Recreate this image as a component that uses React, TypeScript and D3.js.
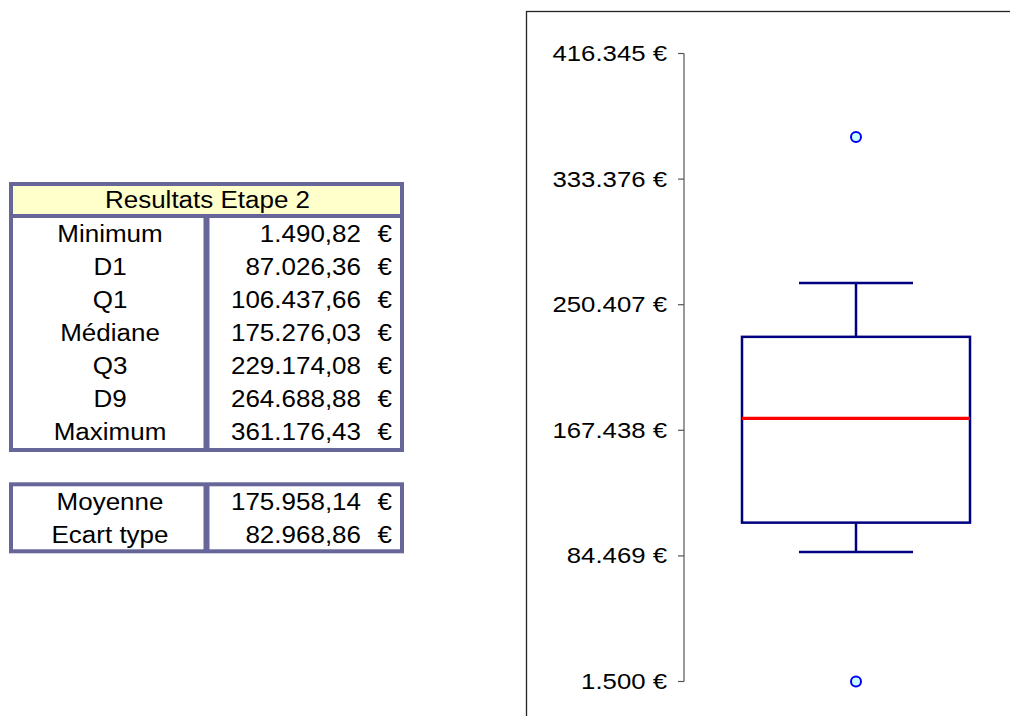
import React from "react";
import * as d3 from "d3";

// ---- data ----
const tableTitle = "Resultats Etape 2";
const statLabels = ["Minimum", "D1", "Q1", "Médiane", "Q3", "D9", "Maximum"];
const statValues = [1490.82, 87026.36, 106437.66, 175276.03, 229174.08, 264688.88, 361176.43];
const extraLabels = ["Moyenne", "Ecart type"];
const extraValues = [175958.14, 82968.86];
const tickValues = [1500, 84469, 167438, 250407, 333376, 416345];
const category = "Etape 2";

const W = 1010;
const H = 716;

const loc = d3.formatLocale({ decimal: ",", thousands: ".", grouping: [3], currency: ["", " €"] });
const fmtTick = (v: number) => loc.format(",.0f")(v) + " €";
const fmtVal = loc.format(",.2f");

const FONT = "'Liberation Sans', Arial, sans-serif";

function SText({ x, y, anchor, size, sx, children }: any) {
  return (
    <text
      transform={`translate(${x},${y}) scale(${sx},1)`}
      textAnchor={anchor}
      dominantBaseline="central"
      fontFamily={FONT}
      fontSize={size}
      fill="#000"
    >
      {children}
    </text>
  );
}

export default function App() {
  const y = d3.scaleLinear().domain([tickValues[0], tickValues[tickValues.length - 1]]).range([681.5, 53.5]);
  const x = d3.scaleBand().domain([category]).range([684, 1028]).padding(0.2028);
  const bx = x(category)!;
  const bw = x.bandwidth();
  const cx = bx + bw / 2;
  const capHalf = bw / 4;

  const [mn, d1, q1, med, q3, d9, mx] = statValues;

  const border = "#666699";
  const tL = 11, tR = 402, divX = 206.5;
  const rowTop = 218, rowH = (448 - 218) / 7;
  const t2Top = 486, t2RowH = 33;
  const TS = 23, TSX = 1.13;
  const AS = 23, ASX = 1.12;

  return (
    <svg width={W} height={H} style={{ position: "absolute", left: 0, top: 0, background: "#fff" }}>
      <rect x={0} y={0} width={W} height={H} fill="#fff" />

      {/* ---- table 1 ---- */}
      <rect x={tL} y={184} width={tR - tL} height={32} fill="#ffffcc" />
      <line x1={tL} x2={tR} y1={216} y2={216} stroke={border} strokeWidth={4} />
      <line x1={divX} x2={divX} y1={216} y2={450} stroke={border} strokeWidth={6} />
      <rect x={tL} y={184} width={tR - tL} height={450 - 184} fill="none" stroke={border} strokeWidth={4} />
      <SText x={(tL + tR) / 2 + 1} y={200} anchor="middle" size={TS} sx={TSX}>{tableTitle}</SText>
      {statLabels.map((l, i) => (
        <g key={l}>
          <SText x={110} y={rowTop + rowH * (i + 0.5)} anchor="middle" size={TS} sx={TSX}>{l}</SText>
          <SText x={361} y={rowTop + rowH * (i + 0.5)} anchor="end" size={TS} sx={TSX}>{fmtVal(statValues[i])}</SText>
          <SText x={392} y={rowTop + rowH * (i + 0.5)} anchor="end" size={TS} sx={TSX}>€</SText>
        </g>
      ))}

      {/* ---- table 2 ---- */}
      <line x1={divX} x2={divX} y1={484} y2={551} stroke={border} strokeWidth={6} />
      <rect x={tL} y={484.3} width={tR - tL} height={551.3 - 484.3} fill="none" stroke={border} strokeWidth={4} />
      {extraLabels.map((l, i) => (
        <g key={l}>
          <SText x={110} y={t2Top + 16 + t2RowH * i} anchor="middle" size={TS} sx={TSX}>{l}</SText>
          <SText x={361} y={t2Top + 16 + t2RowH * i} anchor="end" size={TS} sx={TSX}>{fmtVal(extraValues[i])}</SText>
          <SText x={392} y={t2Top + 16 + t2RowH * i} anchor="end" size={TS} sx={TSX}>€</SText>
        </g>
      ))}

      {/* ---- chart frame ---- */}
      <rect x={526.5} y={11.5} width={600} height={800} fill="none" stroke="#222" strokeWidth={1.3} />

      {/* axis */}
      <line x1={684} x2={684} y1={y(tickValues[tickValues.length - 1])} y2={y(tickValues[0])} stroke="#555" strokeWidth={1.2} />
      {tickValues.map((t) => (
        <g key={t}>
          <line x1={678} x2={684} y1={y(t)} y2={y(t)} stroke="#555" strokeWidth={1.2} />
          <SText x={667} y={y(t) - 0.5} anchor="end" size={AS} sx={ASX}>{fmtTick(t)}</SText>
        </g>
      ))}

      {/* box plot */}
      <line x1={cx} x2={cx} y1={y(d9)} y2={y(q3)} stroke="#000080" strokeWidth={2.5} />
      <line x1={cx} x2={cx} y1={y(q1)} y2={y(d1)} stroke="#000080" strokeWidth={2.5} />
      <line x1={cx - capHalf} x2={cx + capHalf} y1={y(d9)} y2={y(d9)} stroke="#000080" strokeWidth={2.5} />
      <line x1={cx - capHalf} x2={cx + capHalf} y1={y(d1)} y2={y(d1)} stroke="#000080" strokeWidth={2.5} />
      <rect x={bx} y={y(q3)} width={bw} height={y(q1) - y(q3)} fill="none" stroke="#000080" strokeWidth={2.5} />
      <line x1={bx} x2={bx + bw} y1={y(med)} y2={y(med)} stroke="#ff0000" strokeWidth={3.3} />
      {[mx, mn].map((v, i) => (
        <circle key={i} cx={cx} cy={y(v)} r={5} fill="#ccffff" stroke="#0000ff" strokeWidth={2} />
      ))}
    </svg>
  );
}
